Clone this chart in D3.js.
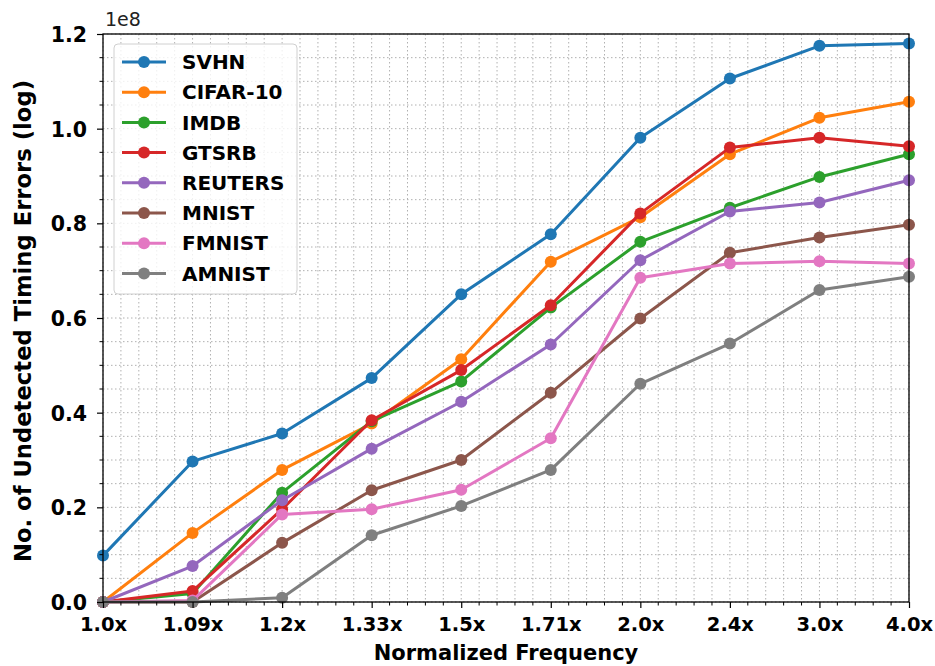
<!DOCTYPE html>
<html>
<head>
<meta charset="utf-8">
<script src="https://cdn.jsdelivr.net/npm/d3@7"></script>
<style>
  body { margin: 0; background: #fff; }
  text { font-family: "DejaVu Sans", sans-serif; }
</style>
</head>
<body>
<script>
// x categories (normalized frequency)
const freqs = ["1.0x", "1.09x", "1.2x", "1.33x", "1.5x", "1.71x", "2.0x", "2.4x", "3.0x", "4.0x"];

// values in units of 1e8
const svhn    = [0.098, 0.297, 0.356, 0.473, 0.650, 0.777, 0.981, 1.106, 1.175, 1.180];
const cifar10 = [0.000, 0.146, 0.279, 0.377, 0.513, 0.719, 0.813, 0.946, 1.023, 1.057];
const imdb    = [0.000, 0.018, 0.231, 0.382, 0.466, 0.622, 0.761, 0.833, 0.898, 0.946];
const gtsrb   = [0.000, 0.023, 0.196, 0.384, 0.490, 0.627, 0.821, 0.960, 0.981, 0.963];
const reuters = [0.000, 0.076, 0.215, 0.324, 0.423, 0.544, 0.722, 0.825, 0.844, 0.891];
const mnist   = [0.000, 0.000, 0.125, 0.236, 0.300, 0.442, 0.599, 0.738, 0.770, 0.797];
const fmnist  = [0.000, 0.003, 0.185, 0.196, 0.237, 0.346, 0.685, 0.715, 0.720, 0.715];
const amnist  = [0.000, 0.000, 0.009, 0.141, 0.203, 0.279, 0.461, 0.546, 0.659, 0.687];

const yTicks = [0.0, 0.2, 0.4, 0.6, 0.8, 1.0, 1.2];

const series = [
  {name: "SVHN", values: svhn, color: "#1f77b4"},
  {name: "CIFAR-10", values: cifar10, color: "#ff7f0e"},
  {name: "IMDB", values: imdb, color: "#2ca02c"},
  {name: "GTSRB", values: gtsrb, color: "#d62728"},
  {name: "REUTERS", values: reuters, color: "#9467bd"},
  {name: "MNIST", values: mnist, color: "#8c564b"},
  {name: "FMNIST", values: fmnist, color: "#e377c2"},
  {name: "AMNIST", values: amnist, color: "#7f7f7f"}
];

const W = 935, H = 666;
const margin = {top: 34, right: 26, bottom: 64, left: 103};
const width = W - margin.left - margin.right,
      height = H - margin.top - margin.bottom;

// index-based x scale, categories equally spaced
const x = d3.scaleLinear().domain([0, freqs.length - 1]).range([0, width]);
const y = d3.scaleLinear().domain([0, 1.2]).range([height, 0]);

const svg = d3.select("body").append("svg")
    .attr("width", W)
    .attr("height", H)
  .append("g")
    .attr("transform", "translate(" + margin.left + "," + margin.top + ")");

// minor + major grid (all dotted)
const xMinor = d3.range(0, freqs.length - 1 + 1e-9, 0.2);
const yMinor = d3.range(0, 1.2 + 1e-9, 0.05);

svg.append("g").selectAll("line")
    .data(xMinor)
    .enter().append("line")
    .attr("x1", d => x(d)).attr("x2", d => x(d))
    .attr("y1", 0).attr("y2", height)
    .attr("stroke", "#b0b0b0")
    .attr("stroke-width", 1)
    .attr("stroke-dasharray", "1.5,2.5");

svg.append("g").selectAll("line")
    .data(yMinor)
    .enter().append("line")
    .attr("y1", d => y(d)).attr("y2", d => y(d))
    .attr("x1", 0).attr("x2", width)
    .attr("stroke", "#b0b0b0")
    .attr("stroke-width", 1)
    .attr("stroke-dasharray", "1.5,2.5");

// lines and markers
const line = d3.line()
    .x((d, i) => x(i))
    .y(d => y(d));

const plot = svg.append("g");
series.forEach(function(s) {
  plot.append("path")
      .datum(s.values)
      .attr("fill", "none")
      .attr("stroke", s.color)
      .attr("stroke-width", 3)
      .attr("stroke-linejoin", "round")
      .attr("d", line);
  plot.selectAll(null)
      .data(s.values)
      .enter().append("circle")
      .attr("cx", (d, i) => x(i))
      .attr("cy", d => y(d))
      .attr("r", 6)
      .attr("fill", s.color);
});

// axes
const xAxis = svg.append("g")
    .attr("transform", "translate(0," + height + ")")
    .call(d3.axisBottom(x).tickValues(d3.range(freqs.length))
      .tickFormat(i => freqs[i]).tickSize(6).tickPadding(9));
xAxis.append("g").selectAll("line")
    .data(xMinor.filter((d, i) => i % 5 !== 0))
    .enter().append("line")
    .attr("x1", d => x(d)).attr("x2", d => x(d))
    .attr("y1", 0).attr("y2", 3.5)
    .attr("stroke", "#000");

const yAxis = svg.append("g")
    .call(d3.axisLeft(y).tickValues(yTicks).tickFormat(d3.format(".1f"))
      .tickSize(6).tickPadding(10));
yAxis.append("g").selectAll("line")
    .data(yMinor.filter((d, i) => i % 4 !== 0))
    .enter().append("line")
    .attr("y1", d => y(d)).attr("y2", d => y(d))
    .attr("x1", 0).attr("x2", -3.5)
    .attr("stroke", "#000");

[xAxis, yAxis].forEach(function(a) {
  a.select(".domain").remove();
  a.selectAll(".tick line").attr("stroke", "#000").attr("stroke-width", 1.2);
  a.selectAll("text")
      .attr("font-family", "DejaVu Sans")
      .attr("font-weight", "bold")
      .attr("fill", "#000");
});
xAxis.selectAll(".tick text").attr("font-size", 19.5);
yAxis.selectAll(".tick text").attr("font-size", 20.5).attr("dy", "0.36em");

// frame
svg.append("rect")
    .attr("width", width).attr("height", height)
    .attr("fill", "none")
    .attr("stroke", "#000")
    .attr("stroke-width", 1.3);

// offset text
svg.append("text")
    .attr("x", 2).attr("y", -8)
    .attr("font-size", 19)
    .attr("fill", "#222")
    .text("1e8");

// axis labels
svg.append("text")
    .attr("x", width / 2).attr("y", height + 58)
    .attr("text-anchor", "middle")
    .attr("font-size", 21).attr("font-weight", "bold")
    .text("Normalized Frequency");

svg.append("text")
    .attr("transform", "translate(" + (-72) + "," + (height / 2 + 3) + ") rotate(-90)")
    .attr("text-anchor", "middle")
    .attr("font-size", 22.7).attr("font-weight", "bold")
    .text("No. of Undetected Timing Errors (log)");

// legend
const legend = svg.append("g").attr("transform", "translate(11,10)");
legend.append("rect")
    .attr("width", 183).attr("height", 250)
    .attr("rx", 4)
    .attr("fill", "#fff").attr("fill-opacity", 0.8)
    .attr("stroke", "#d0d0d0");
const item = legend.selectAll("g.item")
    .data(series)
    .enter().append("g")
    .attr("class", "item")
    .attr("transform", (d, i) => "translate(0," + (18 + i * 30.2) + ")");
item.append("line")
    .attr("x1", 8).attr("x2", 52)
    .attr("stroke", d => d.color).attr("stroke-width", 3);
item.append("circle")
    .attr("cx", 30).attr("r", 6)
    .attr("fill", d => d.color);
item.append("text")
    .attr("x", 68).attr("dy", "0.36em")
    .attr("font-size", 20).attr("font-weight", "bold")
    .text(d => d.name);
</script>
</body>
</html>
